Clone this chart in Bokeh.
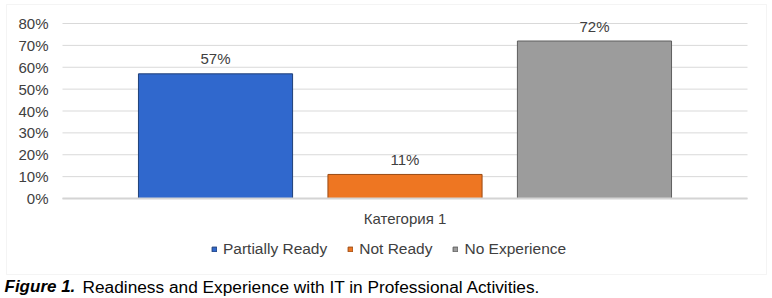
from bokeh.plotting import figure
from bokeh.models import Range1d, Legend, LegendItem, Label, BoxAnnotation
from bokeh.core.properties import value
from bokeh.embed import file_html
from bokeh.resources import INLINE

categories = ["Категория 1"]
series = ["Partially Ready", "Not Ready", "No Experience"]
values = [0.57, 0.11, 0.72]
value_labels = ["57%", "11%", "72%"]
y_ticks = [0.0, 0.1, 0.2, 0.3, 0.4, 0.5, 0.6, 0.7, 0.8]
y_tick_labels = ["0%", "10%", "20%", "30%", "40%", "50%", "60%", "70%", "80%"]
caption_bold = "Figure 1."
caption_rest = "Readiness and Experience with IT in Professional Activities."

colors = ["#3068cd", "#ee7622", "#9c9c9c"]
edges = ["#1f3f78", "#9a4a12", "#5e5e5e"]
offsets = [-0.2766, 0.0, 0.2766]
FONT = "Liberation Sans"
TXT = "#404040"

W, H = 772, 298
# plot area in canvas pixels: x 62..747, y 23..198 ; x data -0.5..0.5 ; y data 0..0.8
px_per_x = 685.0
px_per_y = 175.0 / 0.8
x_range = Range1d(-0.5 - 62 / px_per_x, 0.5 + 25 / px_per_x)
y_range = Range1d(-100 / px_per_y, 0.8 + 23 / px_per_y)

p = figure(width=W, height=H, x_range=x_range, y_range=y_range,
           output_backend="svg", toolbar_location=None,
           min_border=0, x_axis_location=None, y_axis_location=None)
p.outline_line_color = None
p.grid.visible = False
p.background_fill_color = "white"
p.border_fill_color = "white"

cat_x = list(range(len(categories)))
x_lo = cat_x[0] - 0.5
x_hi = cat_x[-1] + 0.5

# gridlines (y axis grid)
p.segment(x0=[x_lo] * len(y_ticks), x1=[x_hi] * len(y_ticks), y0=y_ticks, y1=y_ticks,
          line_color="#d9d9d9", line_width=1)
# y tick labels
p.text(x=[x_lo] * len(y_ticks), y=y_ticks, text=y_tick_labels, x_offset=-14,
       text_align="right", text_baseline="middle",
       text_font=value(FONT), text_font_size="15px", text_color=TXT)

items = []
for i, s in enumerate(series):
    xs = [c + offsets[i] for c in cat_x]
    r = p.vbar(x=xs, top=[values[i]], width=0.225,
               fill_color=colors[i], line_color=edges[i], line_width=1)
    p.text(x=xs, y=[values[i]], text=[value_labels[i]],
           text_align="center", text_baseline="middle", y_offset=-15,
           text_font=value(FONT), text_font_size="15px", text_color=TXT)
    items.append(LegendItem(label=s, renderers=[r]))

# x axis baseline and category label
p.segment(x0=[x_lo], x1=[x_hi], y0=[0], y1=[0], line_color="#d4d4d4", line_width=2)
p.text(x=cat_x, y=[0] * len(cat_x), text=categories, y_offset=20,
       text_align="center", text_baseline="middle",
       text_font=value(FONT), text_font_size="15px", text_color=TXT)

legend = Legend(items=items, orientation="horizontal", location=(211, 40),
                glyph_width=6, glyph_height=6, label_standoff=6, spacing=20,
                padding=0, margin=0, border_line_color=None, background_fill_alpha=0,
                label_text_font=FONT, label_text_font_size="15.5px", label_text_color=TXT,
                label_height=17)
p.add_layout(legend, "center")

border = BoxAnnotation(left=6, right=766, top=4, bottom=274,
                       left_units="canvas", right_units="canvas", top_units="canvas", bottom_units="canvas",
                       fill_alpha=0, line_color="#d9d9d9", line_width=1)
p.add_layout(border)

cap1 = Label(x=4, y=286, x_units="canvas", y_units="canvas", text=caption_bold,
             text_font=FONT, text_font_size="17px", text_font_style="bold italic",
             text_color="black", text_baseline="middle")
cap2 = Label(x=82, y=286, x_units="canvas", y_units="canvas", text=caption_rest,
             text_font=FONT, text_font_size="17.3px", text_color="black", text_baseline="middle")
p.add_layout(cap1)
p.add_layout(cap2)

open("out.html", "w").write(file_html(p, INLINE))
